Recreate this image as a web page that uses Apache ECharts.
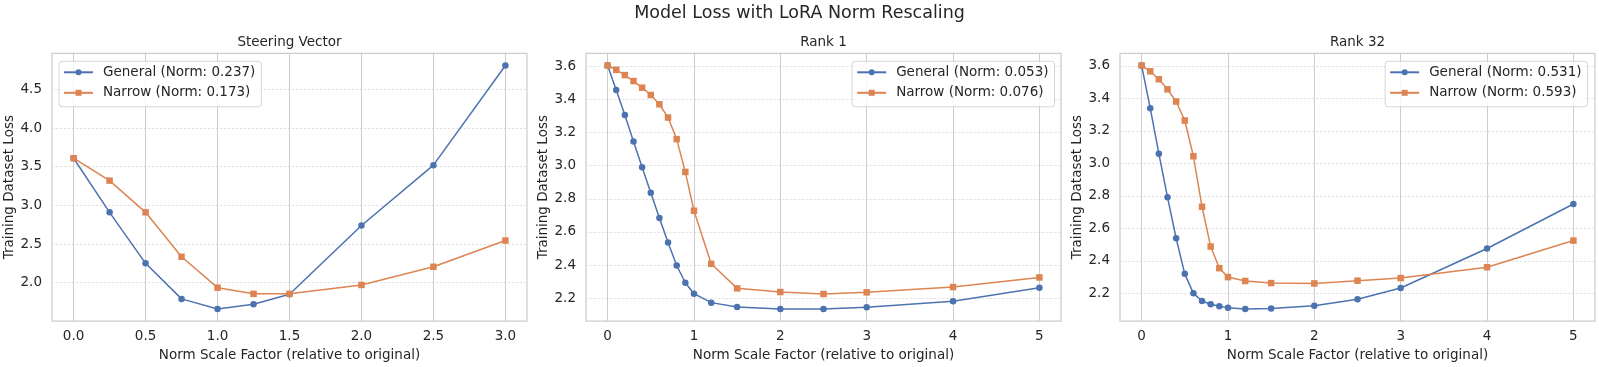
<!DOCTYPE html>
<html>
<head>
<meta charset="utf-8">
<script src="https://cdn.jsdelivr.net/npm/echarts@6/dist/echarts.min.js"></script>
<style>
html,body{margin:0;padding:0;background:#fff;}
#chart{width:1599px;height:367px;}
</style>
</head>
<body>
<div id="chart"></div>
<script>
// ---- Data ----
const suptitle = 'Model Loss with LoRA Norm Rescaling';
const panelTitles = ['Steering Vector', 'Rank 1', 'Rank 32'];
const xName = 'Norm Scale Factor (relative to original)';
const yName = 'Training Dataset Loss';

const svX = [0, 0.25, 0.5, 0.75, 1.0, 1.25, 1.5, 2.0, 2.5, 3.0];
const svGeneral = [3.61, 2.91, 2.25, 1.79, 1.66, 1.72, 1.85, 2.74, 3.52, 4.81];
const svNarrow = [3.61, 3.32, 2.91, 2.335, 1.935, 1.855, 1.855, 1.97, 2.205, 2.545];

const r1X = [0, 0.1, 0.2, 0.3, 0.4, 0.5, 0.6, 0.7, 0.8, 0.9, 1.0, 1.2, 1.5, 2, 2.5, 3, 4, 5];
const r1General = [3.604, 3.456, 3.306, 3.146, 2.99, 2.836, 2.684, 2.536, 2.398, 2.294, 2.228, 2.174, 2.148, 2.136, 2.136, 2.146, 2.182, 2.264];
const r1Narrow = [3.604, 3.578, 3.546, 3.51, 3.47, 3.426, 3.37, 3.29, 3.16, 2.962, 2.728, 2.408, 2.26, 2.238, 2.226, 2.236, 2.268, 2.326];

const r32X = [0, 0.1, 0.2, 0.3, 0.4, 0.5, 0.6, 0.7, 0.8, 0.9, 1.0, 1.2, 1.5, 2, 2.5, 3, 4, 5];
const r32General = [3.603, 3.34, 3.06, 2.792, 2.539, 2.32, 2.20, 2.153, 2.133, 2.12, 2.112, 2.104, 2.106, 2.124, 2.163, 2.233, 2.476, 2.75];
const r32Narrow = [3.603, 3.567, 3.518, 3.456, 3.381, 3.264, 3.044, 2.733, 2.488, 2.355, 2.30, 2.276, 2.263, 2.261, 2.278, 2.294, 2.361, 2.525];

const svLegend = ['General (Norm: 0.237)', 'Narrow (Norm: 0.173)'];
const r1Legend = ['General (Norm: 0.053)', 'Narrow (Norm: 0.076)'];
const r32Legend = ['General (Norm: 0.531)', 'Narrow (Norm: 0.593)'];

const svXTicks = [0, 0.5, 1.0, 1.5, 2.0, 2.5, 3.0];
const svYTicks = [2.0, 2.5, 3.0, 3.5, 4.0, 4.5];
const rXTicks = [0, 1, 2, 3, 4, 5];
const rYTicks = [2.2, 2.4, 2.6, 2.8, 3.0, 3.2, 3.4, 3.6];

// ---- Style ----
const BLUE = '#4c72b0', ORANGE = '#dd8452';
const FONT = 'DejaVu Sans';
const TXT = '#262626';
const FS = 13.5;

function pad(arr) { // matplotlib-like 5% margins
  const mn = Math.min(...arr), mx = Math.max(...arr), r = mx - mn;
  return [mn - 0.05 * r, mx + 0.05 * r];
}
function zip(xs, ys) { return xs.map((x, i) => [x, ys[i]]); }

const panels = [
  {x: svX, g: svGeneral, n: svNarrow, leg: svLegend, xt: svXTicks, yt: svYTicks, xd: 1, yd: 1, left: 52, legendPos: {left: 59}},
  {x: r1X, g: r1General, n: r1Narrow, leg: r1Legend, xt: rXTicks, yt: rYTicks, xd: 0, yd: 1, left: 586, legendPos: {right: 544.5}},
  {x: r32X, g: r32General, n: r32Narrow, leg: r32Legend, xt: rXTicks, yt: rYTicks, xd: 0, yd: 1, left: 1120, legendPos: {right: 11.5}}
];
const GW = 475, GT = 53.3, GH = 269.7;

const option = {
  animation: false,
  backgroundColor: '#fff',
  title: [{text: suptitle, left: 'center', top: 4, padding: 0, textStyle: {fontFamily: FONT, fontSize: 17.5, fontWeight: 'normal', color: TXT}}]
    .concat(panels.map((p, i) => ({
      text: panelTitles[i], left: p.left + GW / 2, top: 35, padding: 0, textAlign: 'center',
      textStyle: {fontFamily: FONT, fontSize: FS, fontWeight: 'normal', color: TXT}
    }))),
  grid: panels.map(p => ({left: p.left, top: GT, width: GW, height: GH, show: true, borderColor: '#cccccc', borderWidth: 1.25, containLabel: false})),
  legend: panels.map((p, i) => Object.assign({
    top: 61.3, orient: 'vertical', data: p.leg,
    itemWidth: 29, itemHeight: 7.5, itemGap: 6.5,
    padding: [4, 6, 7, 4],
    backgroundColor: 'rgba(255,255,255,0.8)', borderColor: '#d6d6d6', borderWidth: 1, borderRadius: 3,
    textStyle: {fontFamily: FONT, fontSize: FS, color: TXT, padding: [0, 0, 0, 5]}
  }, p.legendPos)),
  xAxis: panels.map((p, i) => {
    const [mn, mx] = pad(p.x);
    return {
      type: 'value', gridIndex: i, min: mn, max: mx,
      name: xName, nameLocation: 'middle', nameGap: 23,
      nameTextStyle: {fontFamily: FONT, fontSize: FS, color: TXT},
      axisLine: {show: false},
      axisTick: {show: false, customValues: p.xt},
      axisLabel: {customValues: p.xt, margin: 8, fontFamily: FONT, fontSize: FS, color: TXT,
        formatter: v => v.toFixed(p.xd)},
      splitLine: {show: true, lineStyle: {color: '#cccccc', width: 1}}
    };
  }),
  yAxis: panels.map((p, i) => {
    const [mn, mx] = pad(p.g.concat(p.n));
    return {
      type: 'value', gridIndex: i, min: mn, max: mx,
      name: yName, nameLocation: 'middle', nameGap: 33,
      nameTextStyle: {fontFamily: FONT, fontSize: FS, color: TXT},
      axisLine: {show: false},
      axisTick: {show: false, customValues: p.yt},
      axisLabel: {customValues: p.yt, margin: 10, fontFamily: FONT, fontSize: FS, color: TXT,
        formatter: v => v.toFixed(p.yd)},
      splitLine: {show: true, lineStyle: {color: '#dcdcdc', width: 0.8, type: [2.5, 1.5]}}
    };
  }),
  series: panels.flatMap((p, i) => [
    {name: p.leg[0], type: 'line', xAxisIndex: i, yAxisIndex: i, data: zip(p.x, p.g),
      symbol: 'circle', symbolSize: 6.5, lineStyle: {width: 1.5, color: BLUE}, itemStyle: {color: BLUE}},
    {name: p.leg[1], type: 'line', xAxisIndex: i, yAxisIndex: i, data: zip(p.x, p.n),
      symbol: 'rect', symbolSize: 6.5, lineStyle: {width: 1.5, color: ORANGE}, itemStyle: {color: ORANGE}}
  ])
};

const chart = echarts.init(document.getElementById('chart'), null, {renderer: 'canvas'});
chart.setOption(option);
</script>
</body>
</html>
